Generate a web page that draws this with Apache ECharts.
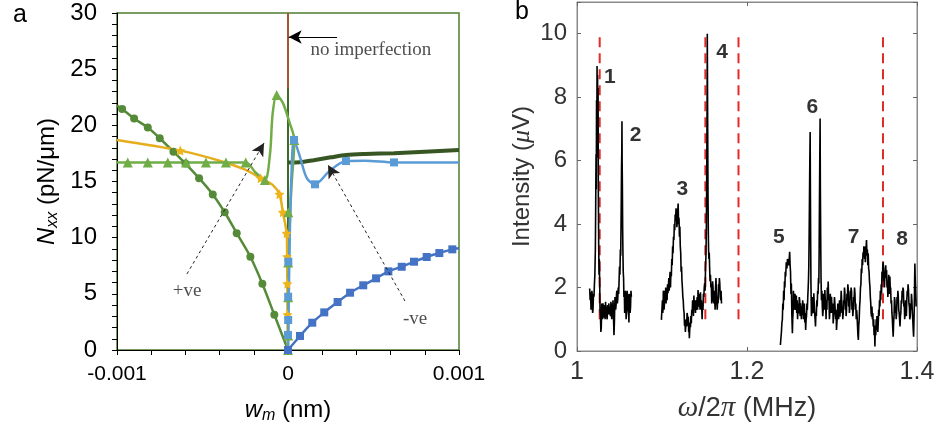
<!DOCTYPE html>
<html>
<head>
<meta charset="utf-8">
<script src="https://cdn.jsdelivr.net/npm/echarts/dist/echarts.min.js"></script>
<style>
  html, body { margin: 0; padding: 0; background: #fff; }
  #chart { width: 938px; height: 432px; }
</style>
</head>
<body>
<div id="chart"></div>
<script>
// ---------- Panel a: N_xx against imperfection amplitude w_m ----------
// "+ve" branch (circles)
const circleLineX = [-0.001, -0.00097, -0.0009, -0.00082, -0.00075, -0.00067, -0.0006, -0.00052, -0.00044, -0.00037, -0.0003, -0.00022, -0.00015, -0.00008, 0];
const circleLineY = [21.75, 21.45, 20.6, 19.8, 18.85, 17.65, 16.6, 15.3, 13.85, 12.26, 10.4, 8.3, 5.9, 3.14, 0];
const circleMarkX = [-0.00097, -0.0009, -0.00082, -0.00075, -0.00067, -0.0006, -0.00052, -0.00044, -0.00037, -0.0003, -0.00022, -0.00015, -0.00008, 0];
const circleMarkY = [21.45, 20.6, 19.8, 18.85, 17.65, 16.6, 15.3, 13.85, 12.26, 10.4, 8.3, 5.9, 3.14, 0];

// yellow branch (stars)
const starLineX = [-0.001, -0.00063, -0.0004, -0.00025, -0.00016, -0.00009, -0.00005, -0.00003, -0.000008, -0.000005, -0.000004, -0.000003, -0.000002, 0];
const starLineY = [18.7, 17.75, 16.85, 16.05, 15.3, 14.7, 13.86, 12.26, 10.39, 8.3, 5.9, 3.14, 1.2, 0];
const starMarkX = [-0.00063, -0.00016, -0.00005, -0.00003, -0.000008, -0.000005, -0.000004, -0.000003];
const starMarkY = [17.75, 15.3, 13.86, 12.26, 10.39, 8.3, 5.9, 3.14];

// light green branch (triangles)
const triLineX = [-0.001, -0.000247, -0.00019, -0.000135, -0.000105, -0.00009, -0.000066, -0.00003, 0.00001, 0.000037, 0.00002, 0.000008, 0.000003, 0];
const triLineY = [16.7, 16.7, 15.8, 15.13, 17.5, 21.0, 22.7, 22.0, 20.2, 18.7, 14.5, 10.0, 5.0, 0];
const triMarkX = [-0.000937, -0.00082, -0.000703, -0.000596, -0.00048, -0.000363, -0.000247, -0.000135, -0.000066, 0.000037, 0.000002, 0.000001, 0.000001, 0.000001, 0];
const triMarkY = [16.7, 16.7, 16.7, 16.7, 16.7, 16.7, 16.7, 15.13, 22.7, 18.7, 12.26, 7.8, 4.7, 1.3, 0];

// light blue branch (squares)
const sqLineX = [0, 0.000004, 0.00001, 0.00002, 0.000035, 0.00007, 0.00011, 0.000158, 0.00024, 0.000339, 0.00045, 0.00062, 0.001];
const sqLineY = [0, 4.0, 10.0, 15.5, 18.7, 17.2, 15.3, 14.75, 15.9, 16.82, 16.85, 16.7, 16.7];
const sqMarkX = [0.000035, 0.000158, 0.000339, 0.00062, 0.000002, 0.000001, 0.000001, 0];
const sqMarkY = [18.7, 14.75, 16.82, 16.7, 7.86, 4.74, 2.67, 1.34];

// "-ve" branch (dark blue squares)
const negLineX = [0, 0.0000702, 0.000142, 0.000212, 0.00029, 0.000363, 0.00044, 0.000515, 0.000587, 0.000665, 0.000737, 0.000811, 0.000885, 0.000961, 0.001];
const negLineY = [0, 1.25, 2.43, 3.35, 4.27, 5.1, 5.76, 6.38, 7.0, 7.41, 7.86, 8.28, 8.63, 8.96, 9.05];

// dark green branch on the right, plus its vertical part at w_m = 0
const darkX = [0, 0.00007, 0.00015, 0.00025, 0.00034, 0.00045, 0.00062, 0.0008, 0.001];
const darkY = [16.7, 16.72, 16.9, 17.15, 17.36, 17.45, 17.52, 17.65, 17.8];
const darkStemY = [0, 23.3];

// perfect plate reference at w_m = 0
const perfectY = [0, 30];

// ---------- Panel b: measured spectrum ----------
const specA = [
  [1.0149, 1.97], [1.0155, 1.6], [1.0160, 1.85], [1.0165, 1.3], [1.0170, 1.40], [1.0175, 1.9],
  [1.0180, 1.75], [1.0184, 1.2], [1.0188, 1.29], [1.0194, 1.8], [1.0200, 1.71], [1.0205, 2.1],
  [1.0210, 2.4], [1.0216, 3.18], [1.0220, 4.6], [1.0224, 6.2], [1.0227, 5.1], [1.0230, 7.9],
  [1.0233, 6.6], [1.0236, 8.98], [1.0239, 7.2], [1.0242, 8.7], [1.0245, 6.1], [1.0248, 8.3],
  [1.0251, 5.0], [1.0255, 3.4], [1.0259, 2.4], [1.0262, 2.9], [1.0267, 2.13], [1.0271, 1.3],
  [1.0276, 1.1], [1.0281, 0.6], [1.0286, 0.77], [1.0291, 1.5], [1.0296, 1.35], [1.0301, 1.0],
  [1.0306, 1.5], [1.0311, 1.2], [1.0316, 1.05], [1.0321, 1.45], [1.0326, 1.2], [1.0331, 1.0],
  [1.0336, 1.55], [1.0340, 1.25], [1.0345, 1.4], [1.0350, 1.1], [1.0355, 1.0], [1.0360, 1.45],
  [1.0365, 1.15], [1.0370, 1.3], [1.0375, 1.5], [1.0380, 1.15], [1.0384, 1.4], [1.0389, 1.25],
  [1.0394, 1.1], [1.0399, 1.55], [1.0404, 1.25], [1.0409, 1.0], [1.0414, 1.5], [1.0419, 1.3],
  [1.0424, 1.6], [1.0430, 1.0], [1.0435, 0.5], [1.0440, 0.9], [1.0443, 1.3], [1.0447, 1.7],
  [1.0450, 1.6], [1.0455, 1.3], [1.0460, 1.45], [1.0465, 1.8], [1.0470, 1.9], [1.0475, 1.5],
  [1.0480, 1.65], [1.0485, 2.0], [1.0490, 1.8], [1.0495, 2.2], [1.0500, 2.66], [1.0505, 2.4],
  [1.0510, 3.2], [1.0514, 3.0], [1.0518, 3.92], [1.0521, 4.8], [1.0524, 5.8], [1.0527, 6.3],
  [1.0529, 7.24], [1.0531, 6.0], [1.0534, 5.2], [1.0537, 3.9], [1.0540, 3.18], [1.0544, 2.5],
  [1.0548, 2.3], [1.0552, 1.7], [1.0557, 1.82], [1.0561, 1.2], [1.0565, 1.4], [1.0569, 1.9],
  [1.0573, 1.6], [1.0578, 1.0], [1.0584, 1.29], [1.0590, 1.9], [1.0596, 1.71], [1.0602, 1.3],
  [1.0608, 1.15], [1.0611, 0.9], [1.0614, 1.8], [1.0620, 1.66], [1.0625, 1.2], [1.0630, 1.4],
  [1.0635, 1.9], [1.0640, 1.71]
];
const specB = [
  [1.0993, 0.98], [1.0999, 1.3], [1.1005, 1.6], [1.1009, 1.2], [1.1012, 1.3], [1.1016, 1.9],
  [1.1020, 1.82], [1.1024, 1.3], [1.1028, 1.45], [1.1032, 1.9], [1.1036, 1.5], [1.1040, 1.7],
  [1.1044, 2.0], [1.1048, 1.5], [1.1051, 1.92], [1.1055, 1.7], [1.1060, 1.6], [1.1065, 2.1],
  [1.1070, 1.82], [1.1075, 2.0], [1.1080, 2.3], [1.1085, 1.9], [1.1090, 2.24], [1.1095, 2.5],
  [1.1100, 2.0], [1.1105, 2.5], [1.1110, 2.35], [1.1115, 2.9], [1.1120, 2.7], [1.1125, 3.3],
  [1.1130, 3.08], [1.1135, 3.6], [1.1140, 3.5], [1.1145, 4.0], [1.1150, 3.81], [1.1155, 4.3],
  [1.1160, 4.1], [1.1165, 4.5], [1.1170, 4.34], [1.1175, 3.9], [1.1180, 4.1], [1.1185, 4.4],
  [1.1190, 4.65], [1.1195, 4.0], [1.1200, 4.2], [1.1205, 3.6], [1.1210, 3.92], [1.1215, 3.3],
  [1.1220, 3.1], [1.1225, 2.5], [1.1230, 2.66], [1.1235, 2.2], [1.1240, 2.0], [1.1245, 1.7],
  [1.1250, 1.6], [1.1255, 1.3], [1.1260, 1.2], [1.1265, 0.8], [1.1270, 0.98], [1.1275, 0.6],
  [1.1280, 0.65], [1.1285, 1.0], [1.1290, 0.77], [1.1295, 1.2], [1.1300, 1.1], [1.1305, 0.8],
  [1.1310, 1.08], [1.1314, 0.6], [1.1318, 0.7], [1.1322, 0.4], [1.1325, 0.45], [1.1330, 0.9],
  [1.1335, 0.75], [1.1340, 1.1], [1.1345, 0.87], [1.1350, 1.3], [1.1355, 1.2], [1.1360, 1.6],
  [1.1365, 1.4], [1.1370, 1.1], [1.1375, 1.75], [1.1380, 1.3], [1.1384, 1.6], [1.1389, 1.4],
  [1.1394, 1.2], [1.1399, 1.6], [1.1404, 1.29], [1.1409, 1.5], [1.1414, 1.7], [1.1419, 1.3],
  [1.1424, 1.92], [1.1429, 1.6], [1.1434, 1.4], [1.1438, 1.8], [1.1443, 1.5], [1.1448, 1.3],
  [1.1453, 1.85], [1.1458, 1.4], [1.1463, 1.6], [1.1468, 1.3], [1.1472, 1.0], [1.1477, 1.5],
  [1.1482, 1.29], [1.1487, 1.8], [1.1492, 1.7], [1.1497, 2.0], [1.1502, 2.13], [1.1507, 1.9],
  [1.1512, 2.6], [1.1517, 3.0], [1.1522, 3.92], [1.1525, 5.0], [1.1528, 6.5], [1.1531, 8.2],
  [1.1533, 10.0], [1.1536, 8.0], [1.1538, 6.8], [1.1541, 5.0], [1.1545, 3.7], [1.1548, 3.2],
  [1.1552, 2.9], [1.1556, 3.1], [1.1560, 2.66], [1.1565, 2.2], [1.1570, 2.4], [1.1575, 2.0],
  [1.1580, 2.13], [1.1585, 1.5], [1.1590, 1.7], [1.1595, 2.2], [1.1600, 2.03], [1.1605, 1.6],
  [1.1610, 1.5], [1.1615, 1.9], [1.1620, 1.6], [1.1625, 1.3], [1.1630, 2.0], [1.1635, 2.3],
  [1.1640, 1.82], [1.1645, 1.5], [1.1650, 1.3], [1.1655, 1.7], [1.1660, 1.5], [1.1665, 2.1],
  [1.1670, 1.9], [1.1675, 2.3], [1.1680, 2.13], [1.1685, 1.7], [1.1690, 1.6], [1.1695, 1.9],
  [1.1700, 1.5]
];
const specC = [
  [1.2393, 0.19], [1.2399, 0.4], [1.2405, 0.6], [1.2411, 0.9], [1.2416, 0.98], [1.2421, 1.5],
  [1.2426, 1.3], [1.2431, 1.9], [1.2436, 1.6], [1.2441, 2.2], [1.2446, 2.0], [1.2450, 2.5],
  [1.2455, 2.35], [1.2462, 2.8], [1.2470, 2.6], [1.2476, 2.9], [1.2483, 2.87], [1.2492, 2.7],
  [1.2502, 3.13], [1.2507, 2.7], [1.2512, 2.5], [1.2517, 1.8], [1.2522, 2.13], [1.2528, 1.1],
  [1.2534, 0.56], [1.2538, 1.0], [1.2542, 1.2], [1.2546, 1.9], [1.2550, 1.71], [1.2555, 1.3],
  [1.2560, 1.4], [1.2565, 1.8], [1.2570, 1.29], [1.2575, 1.6], [1.2580, 1.75], [1.2585, 1.2],
  [1.2590, 1.6], [1.2595, 1.0], [1.2600, 1.3], [1.2605, 1.5], [1.2610, 1.18], [1.2615, 1.7],
  [1.2620, 1.6], [1.2625, 1.1], [1.2630, 1.5], [1.2635, 1.3], [1.2640, 1.0], [1.2645, 1.4],
  [1.2650, 1.13], [1.2655, 1.6], [1.2660, 1.45], [1.2665, 1.0], [1.2670, 1.29], [1.2675, 1.5],
  [1.2680, 0.9], [1.2685, 1.2], [1.2690, 0.66], [1.2695, 1.0], [1.2700, 1.1], [1.2705, 1.5],
  [1.2710, 1.29], [1.2715, 1.7], [1.2720, 2.0], [1.2724, 2.3], [1.2727, 2.66], [1.2731, 3.6],
  [1.2735, 4.8], [1.2739, 6.0], [1.2743, 6.9], [1.2746, 5.0], [1.2749, 3.5], [1.2752, 2.2],
  [1.2755, 1.6], [1.2758, 1.1], [1.2762, 1.3], [1.2766, 1.7], [1.2770, 1.18], [1.2774, 1.4],
  [1.2778, 1.6], [1.2782, 1.2], [1.2786, 1.82], [1.2791, 1.5], [1.2796, 1.2], [1.2801, 1.0],
  [1.2806, 0.77], [1.2811, 1.2], [1.2816, 1.1], [1.2821, 1.6], [1.2826, 1.4], [1.2831, 1.9],
  [1.2836, 1.8], [1.2841, 2.3], [1.2845, 2.13], [1.2849, 3.2], [1.2852, 4.5], [1.2856, 6.0],
  [1.2860, 7.33], [1.2863, 5.2], [1.2867, 3.6], [1.2871, 2.3], [1.2876, 1.6], [1.2881, 1.9],
  [1.2886, 1.4], [1.2891, 1.1], [1.2896, 1.29], [1.2901, 1.8], [1.2906, 1.7], [1.2911, 1.3],
  [1.2916, 1.92], [1.2921, 1.6], [1.2926, 1.4], [1.2930, 1.0], [1.2935, 1.6], [1.2940, 1.3],
  [1.2945, 2.0], [1.2950, 1.6], [1.2955, 2.19], [1.2960, 1.7], [1.2965, 1.6], [1.2970, 1.0],
  [1.2975, 1.29], [1.2980, 1.8], [1.2985, 1.5], [1.2990, 1.2], [1.2994, 1.71], [1.2999, 1.4],
  [1.3004, 1.2], [1.3009, 1.5], [1.3014, 0.87], [1.3019, 1.1], [1.3024, 1.3], [1.3029, 1.7],
  [1.3034, 1.5], [1.3039, 1.2], [1.3044, 1.0], [1.3049, 1.3], [1.3053, 0.66], [1.3058, 0.9],
  [1.3063, 1.1], [1.3068, 1.5], [1.3073, 1.4], [1.3078, 1.0], [1.3083, 1.25], [1.3088, 1.6],
  [1.3093, 1.08], [1.3098, 1.3], [1.3103, 1.5], [1.3108, 1.9], [1.3112, 1.71], [1.3117, 1.2],
  [1.3122, 1.4], [1.3127, 1.0], [1.3132, 1.18], [1.3137, 1.6], [1.3142, 1.5], [1.3147, 2.0],
  [1.3152, 1.82], [1.3157, 1.3], [1.3162, 1.5], [1.3166, 1.1], [1.3171, 1.29], [1.3176, 1.8],
  [1.3181, 1.6], [1.3186, 2.1], [1.3191, 1.97], [1.3196, 1.4], [1.3200, 1.6], [1.3205, 1.2],
  [1.3210, 1.4], [1.3215, 1.9], [1.3220, 1.7], [1.3225, 2.0], [1.3230, 1.87], [1.3235, 1.3],
  [1.3240, 1.5], [1.3245, 1.1], [1.3250, 1.29], [1.3255, 1.7], [1.3260, 1.6], [1.3265, 2.0],
  [1.3270, 1.82], [1.3275, 1.3], [1.3280, 1.5], [1.3285, 1.0], [1.3290, 1.29], [1.3295, 1.1],
  [1.3300, 0.8], [1.3305, 0.5], [1.3310, 0.35], [1.3315, 0.8], [1.3320, 1.0], [1.3325, 1.4],
  [1.3330, 1.6], [1.3335, 2.0], [1.3340, 2.1], [1.3345, 2.6], [1.3350, 2.45], [1.3355, 2.9],
  [1.3360, 2.7], [1.3365, 3.1], [1.3370, 2.97], [1.3375, 3.3], [1.3380, 3.2], [1.3384, 2.9],
  [1.3387, 3.29], [1.3392, 2.8], [1.3397, 3.1], [1.3402, 3.3], [1.3406, 3.5], [1.3411, 3.0],
  [1.3416, 3.2], [1.3421, 2.7], [1.3426, 3.08], [1.3431, 2.6], [1.3436, 2.5], [1.3441, 2.2],
  [1.3446, 2.03], [1.3451, 1.7], [1.3456, 1.5], [1.3460, 1.2], [1.3465, 1.08], [1.3470, 1.4],
  [1.3475, 1.0], [1.3480, 1.2], [1.3485, 0.77], [1.3490, 1.0], [1.3495, 0.5], [1.3500, 0.7],
  [1.3505, 0.14], [1.3510, 0.8], [1.3515, 0.5], [1.3520, 1.0], [1.3524, 0.66], [1.3529, 1.1],
  [1.3534, 0.9], [1.3539, 0.6], [1.3544, 0.87], [1.3549, 1.3], [1.3554, 1.1], [1.3559, 1.6],
  [1.3564, 1.4], [1.3569, 1.9], [1.3574, 1.6], [1.3579, 2.1], [1.3583, 1.82], [1.3588, 2.5],
  [1.3593, 2.3], [1.3598, 2.7], [1.3603, 2.8], [1.3608, 2.2], [1.3612, 2.5], [1.3617, 2.0],
  [1.3622, 2.35], [1.3627, 2.6], [1.3632, 2.7], [1.3637, 2.3], [1.3642, 2.55], [1.3647, 2.0],
  [1.3652, 2.2], [1.3657, 1.7], [1.3662, 1.92], [1.3667, 2.4], [1.3672, 2.1], [1.3677, 1.8],
  [1.3681, 2.35], [1.3686, 1.9], [1.3690, 2.0], [1.3695, 1.5], [1.3700, 1.6], [1.3705, 1.2],
  [1.3710, 1.0], [1.3715, 0.7], [1.3720, 0.45], [1.3725, 0.9], [1.3730, 1.1], [1.3735, 1.7],
  [1.3740, 1.6], [1.3745, 1.2], [1.3750, 1.4], [1.3755, 1.0], [1.3760, 1.18], [1.3765, 1.7],
  [1.3770, 1.5], [1.3775, 1.9], [1.3780, 1.71], [1.3785, 1.3], [1.3790, 1.2], [1.3795, 1.0],
  [1.3800, 0.77], [1.3805, 1.1], [1.3810, 1.2], [1.3815, 1.6], [1.3820, 1.5], [1.3825, 1.9],
  [1.3830, 1.7], [1.3835, 2.0], [1.3840, 1.92], [1.3845, 1.4], [1.3850, 1.5], [1.3855, 1.0],
  [1.3860, 1.18], [1.3865, 1.6], [1.3870, 1.4], [1.3875, 1.1], [1.3880, 1.6], [1.3885, 1.9],
  [1.3890, 1.75], [1.3895, 2.1], [1.3900, 1.92], [1.3905, 1.5], [1.3910, 1.4], [1.3915, 1.0],
  [1.3920, 1.08], [1.3925, 1.5], [1.3930, 1.3], [1.3935, 1.8], [1.3940, 1.6], [1.3945, 1.2],
  [1.3950, 1.0], [1.3955, 0.7], [1.3960, 0.45], [1.3964, 0.9], [1.3968, 1.4], [1.3972, 2.2],
  [1.3975, 2.76], [1.3979, 2.3], [1.3983, 2.0], [1.3987, 1.7], [1.3990, 1.4]
];

// mode frequencies marked by dashed red lines, and the span they cover
const modeLineX = [1.0267, 1.151, 1.190, 1.360];
const modeLineSpan = [1, 10];

// peak numbering: text, frequency, intensity
const peakLabels = ['1', '2', '3', '4', '5', '6', '7', '8'];
const peakLabelX = [1.0385, 1.069, 1.124, 1.1706, 1.2376, 1.277, 1.3255, 1.3824];
const peakLabelY = [8.64, 6.80, 5.09, 9.43, 3.60, 7.68, 3.60, 3.52];

// ---------- helpers ----------
const zip = (xs, ys) => xs.map((x, i) => [x, ys[i]]);
const SANS = 'Liberation Sans, Arial, sans-serif';
const SERIF = 'Liberation Serif, Times New Roman, serif';

const starPath = 'path://M0,-10 L2.9,-4 L9.5,-3.1 L4.7,1.5 L5.9,8.1 L0,5 L-5.9,8.1 L-4.7,1.5 L-9.5,-3.1 L-2.9,-4 Z';

function curve(xs, ys, color, width, smooth) {
  return {
    type: 'line', xAxisIndex: 0, yAxisIndex: 0,
    data: zip(xs, ys), showSymbol: false, smooth: smooth,
    lineStyle: { color: color, width: width }, itemStyle: { color: color },
    silent: true, z: 3
  };
}
function marks(xs, ys, color, symbol, size) {
  return {
    type: 'scatter', xAxisIndex: 0, yAxisIndex: 0,
    data: zip(xs, ys), symbol: symbol, symbolSize: size,
    itemStyle: { color: color, opacity: 1 }, silent: true, z: 4
  };
}

const chart = echarts.init(document.getElementById('chart'), null, { renderer: 'canvas' });

const series = [
  // w_m = 0 line for the perfect plate, with the annotation arrows
  {
    type: 'line', xAxisIndex: 0, yAxisIndex: 0,
    data: zip([0, 0], perfectY), showSymbol: false,
    lineStyle: { color: '#a9552b', width: 2 }, silent: true, z: 2,
    markLine: {
      silent: true, symbol: ['none', 'arrow'], symbolSize: [10, 13],
      label: { show: false },
      data: [
        [{ coord: [-0.000591, 6.77], lineStyle: { type: [3, 3], color: '#222', width: 1 } },
         { coord: [-0.00014, 18.43] }],
        [{ coord: [0.000684, 4.36], lineStyle: { type: [3, 3], color: '#222', width: 1 } },
         { coord: [0.000234, 16.47] }],
        [{ coord: [0.000287, 27.86], lineStyle: { type: 'solid', color: '#000', width: 1.2 } },
         { coord: [0.000004, 27.86] }]
      ]
    }
  },
  {
    type: 'line', xAxisIndex: 0, yAxisIndex: 0,
    data: zip([0, 0], darkStemY), showSymbol: false,
    lineStyle: { color: '#3e6b27', width: 2 }, silent: true, z: 2
  },
  curve(darkX, darkY, '#375623', 4, 0.3),
  curve(circleLineX, circleLineY, '#558b38', 2.5, 0.3),
  marks(circleMarkX, circleMarkY, '#558b38', 'circle', 8),
  curve(starLineX, starLineY, '#e6ad1c', 2.5, 0.3),
  marks(starMarkX, starMarkY, '#efb41a', starPath, 10),
  curve(triLineX, triLineY, '#70ad47', 2.5, 0.3),
  marks(triMarkX, triMarkY, '#70ad47', 'triangle', 10),
  curve(sqLineX, sqLineY, '#5b9bd5', 2.5, 0.3),
  marks(sqMarkX, sqMarkY, '#5b9bd5', 'rect', 8),
  curve(negLineX, negLineY, '#4472c4', 2.5, 0.2),
  marks(negLineX.slice(0, -1), negLineY.slice(0, -1), '#4472c4', 'rect', 8),
  // annotation texts of panel a
  {
    type: 'scatter', xAxisIndex: 0, yAxisIndex: 0, symbolSize: 1, silent: true, z: 6,
    itemStyle: { color: 'rgba(0,0,0,0)' },
    label: { show: true, position: 'inside', formatter: '{b}', color: '#222', fontFamily: SERIF, fontSize: 19 },
    data: [
      { name: 'no imperfection', value: [0.000485, 26.7] },
      { name: '+ve', value: [-0.00059, 5.25] },
      { name: '-ve', value: [0.000743, 2.76] }
    ]
  }
];

// panel b: dashed mode lines
modeLineX.forEach(x => {
  series.push({
    type: 'line', xAxisIndex: 1, yAxisIndex: 1,
    data: zip([x, x], modeLineSpan), showSymbol: false, silent: true, z: 2,
    lineStyle: { color: '#e32b2b', width: 2, type: [10, 6] }
  });
});
// panel b: spectrum pieces
[specA, specB, specC].forEach(seg => {
  series.push({
    type: 'line', xAxisIndex: 1, yAxisIndex: 1, data: seg, showSymbol: false, silent: true, z: 3,
    lineStyle: { color: '#000', width: 1.6 }
  });
});
// panel b: peak numbers
series.push({
  type: 'scatter', xAxisIndex: 1, yAxisIndex: 1, symbolSize: 1, silent: true, z: 6,
  itemStyle: { color: 'rgba(0,0,0,0)' },
  label: { show: true, position: 'inside', formatter: '{b}', color: '#000', fontFamily: SANS, fontWeight: 'bold', fontSize: 21 },
  data: peakLabels.map((t, i) => ({ name: t, value: [peakLabelX[i], peakLabelY[i]] }))
});

const subRich = {
  it: { fontFamily: SANS, fontStyle: 'italic', fontSize: 24, color: '#000' },
  sub: { fontFamily: SANS, fontStyle: 'italic', fontSize: 16, color: '#000', padding: [12, 0, 0, 0] },
  n: { fontFamily: SANS, fontSize: 24, color: '#000' }
};
const bRichY = {
  g: { fontFamily: SERIF, fontStyle: 'italic', fontSize: 26, color: '#333' },
  n: { fontFamily: SANS, fontSize: 24, color: '#333' }
};
const bRichX = {
  g: { fontFamily: SERIF, fontStyle: 'italic', fontSize: 29, color: '#333' },
  n: { fontFamily: SANS, fontSize: 27, color: '#333' }
};

const option = {
  animation: false,
  backgroundColor: '#fff',
  grid: [
    { left: 117, top: 13, width: 342, height: 337, show: true, borderColor: '#4e7d30', borderWidth: 1.5, backgroundColor: 'rgba(0,0,0,0)' },
    { left: 577, top: 2, width: 340, height: 349, show: true, borderColor: '#8a8a8a', borderWidth: 1, backgroundColor: 'rgba(0,0,0,0)' }
  ],
  xAxis: [
    {
      type: 'value', gridIndex: 0, min: -0.001, max: 0.001, interval: 0.001,
      axisLine: { show: true, onZero: false, lineStyle: { color: '#000', width: 1 } },
      axisTick: { show: true, length: 5, lineStyle: { color: '#000' } },
      minorTick: { show: true, splitNumber: 5, length: 5, lineStyle: { color: '#000' } },
      splitLine: { show: false },
      axisLabel: {
        fontFamily: SANS, fontSize: 21, color: '#000', margin: 14,
        formatter: v => Math.abs(v) < 1e-12 ? '0' : (v < 0 ? '-0.001' : '0.001')
      },
      name: '{it|w}{sub|m}{n| (nm)}', nameLocation: 'middle', nameGap: 46,
      nameTextStyle: { rich: subRich }
    },
    {
      type: 'value', gridIndex: 1, min: 1, max: 1.4, interval: 0.2,
      axisLine: { show: true, onZero: false, lineStyle: { color: '#8a8a8a' } },
      axisTick: { show: true, inside: true, length: 4, lineStyle: { color: '#666' } },
      splitLine: { show: false },
      axisLabel: {
        fontFamily: SANS, fontSize: 25, color: '#333', margin: 9,
        formatter: v => Math.abs(v - 1) < 1e-9 ? '1' : v.toFixed(1)
      },
      name: '{g|ω}{n|/2}{g|π}{n| (MHz)}', nameLocation: 'middle', nameGap: 43,
      nameTextStyle: { rich: bRichX }
    },
    {
      type: 'value', gridIndex: 1, position: 'top', min: 1, max: 1.4, interval: 0.2,
      axisLine: { show: true, onZero: false, lineStyle: { color: '#8a8a8a' } },
      axisTick: { show: true, inside: true, length: 4, lineStyle: { color: '#666' } },
      axisLabel: { show: false }, splitLine: { show: false }
    }
  ],
  yAxis: [
    {
      type: 'value', gridIndex: 0, min: 0, max: 30, interval: 5,
      axisLine: { show: true, onZero: false, lineStyle: { color: '#000', width: 1 } },
      axisTick: { show: true, length: 5, lineStyle: { color: '#000' } },
      minorTick: { show: true, splitNumber: 5, length: 5, lineStyle: { color: '#000' } },
      splitLine: { show: false },
      axisLabel: { fontFamily: SANS, fontSize: 24, color: '#000', margin: 20 },
      name: '{it|N}{sub|xx}{n| (pN/μm)}', nameLocation: 'middle', nameRotate: 90, nameGap: 56,
      nameTextStyle: { rich: subRich }
    },
    {
      type: 'value', gridIndex: 1, min: 0, max: 11, interval: 2,
      axisLine: { show: true, onZero: false, lineStyle: { color: '#8a8a8a' } },
      axisTick: { show: true, inside: true, length: 4, lineStyle: { color: '#666' } },
      splitLine: { show: false },
      axisLabel: {
        fontFamily: SANS, fontSize: 24, color: '#333', margin: 10,
        formatter: v => (v > 10.5 ? '' : String(v))
      },
      name: '{n|Intensity (}{g|μ}{n|V)}', nameLocation: 'middle', nameRotate: 90, nameGap: 42,
      nameTextStyle: { rich: bRichY }
    },
    {
      type: 'value', gridIndex: 1, position: 'right', min: 0, max: 11, interval: 2,
      axisLine: { show: true, onZero: false, lineStyle: { color: '#8a8a8a' } },
      axisTick: { show: true, inside: true, length: 4, lineStyle: { color: '#666' } },
      axisLabel: { show: false }, splitLine: { show: false }
    }
  ],
  graphic: [
    { type: 'text', left: 13, top: 3, style: { text: 'a', font: '25px ' + SANS, fill: '#000' } },
    { type: 'text', left: 515, top: 0, style: { text: 'b', font: '25px ' + SANS, fill: '#000' } }
  ],
  series: series
};

chart.setOption(option);
</script>
</body>
</html>
